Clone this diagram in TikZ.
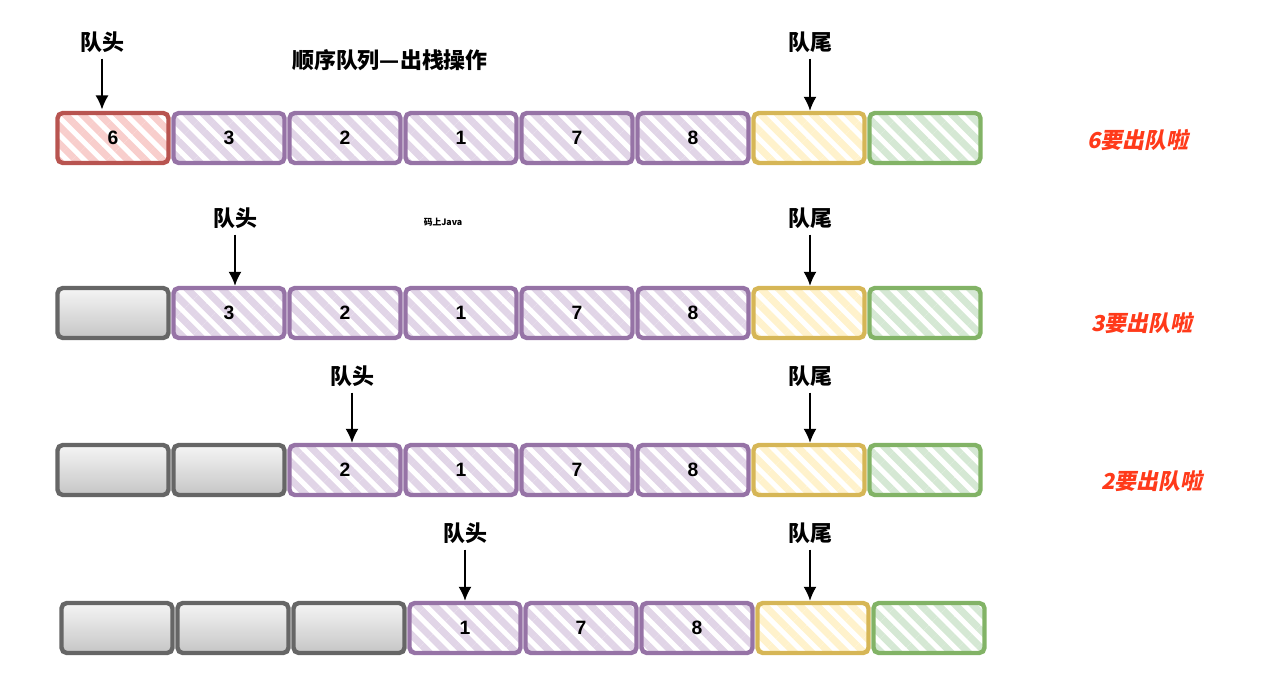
\documentclass[tikz,border=0pt]{standalone}
\usepackage{fontspec}
\setmainfont{Liberation Sans}
\newfontfamily\cjk{Noto Sans CJK SC}
\newfontfamily\cjkit{Noto Sans CJK SC}[FakeSlant=0.2]
\usetikzlibrary{arrows.meta,patterns.meta,positioning}
\definecolor{qRedD}{HTML}{B85450}
\definecolor{qRedL}{HTML}{F8CECC}
\definecolor{qPurpleD}{HTML}{9673A6}
\definecolor{qPurpleL}{HTML}{E1D5E7}
\definecolor{qYellowD}{HTML}{D6B656}
\definecolor{qYellowL}{HTML}{FFF2CC}
\definecolor{qGreenD}{HTML}{82B366}
\definecolor{qGreenL}{HTML}{D5E8D4}
\definecolor{qGray}{HTML}{666666}
\definecolor{qSay}{HTML}{FF3A1A}

\begin{document}
\begin{tikzpicture}[x=0.02cm, y=-0.02cm,
  cell/.style={draw, rounded corners=3pt, line width=2.5pt, minimum width=2.22cm, minimum height=1.0cm, font=\bfseries\fontsize{11}{13}\selectfont},
  hatch/.style={cell, draw=#1D, pattern={Lines[angle=-45, distance=7pt, line width=4pt]}, pattern color=#1L},
  spent/.style={cell, draw=qGray, top color=gray!8, bottom color=gray!45},
  tag/.style={font=\cjk\bfseries\fontsize{12.5}{14}\selectfont},
  ptr/.style={-{Latex[length=2.8mm, width=2.6mm]}, line width=0.9pt},
  say/.style={font=\cjkit\bfseries\fontsize{12.5}{14}\selectfont, text=qSay}
]
\useasboundingbox (0,0) rectangle (1279,693);
% title
\node[tag] (title) at (390,60) {顺序队列—出栈操作};
\node[font=\cjk\bfseries\fontsize{5}{6}\selectfont] (mark) at (443,222) {码上Java};
% row 1
\node[hatch=qRed] (a1) at (113,138) {6};
\foreach \n [count=\i from 2] in {3,2,1,7,8}
  \node[hatch=qPurple] (a\i) at ({113+116*(\i-1)},138) {\n};
\node[hatch=qYellow] (a7) at (809,138) {};
\node[hatch=qGreen] (a8) at (925,138) {};
% row 2
\node[spent] (b1) at (113,313) {};
\foreach \n [count=\i from 2] in {3,2,1,7,8}
  \node[hatch=qPurple] (b\i) at ({113+116*(\i-1)},313) {\n};
\node[hatch=qYellow] (b7) at (809,313) {};
\node[hatch=qGreen] (b8) at (925,313) {};
% row 3
\node[spent] (c1) at (113,470) {};
\node[spent] (c2) at (229,470) {};
\foreach \n [count=\i from 3] in {2,1,7,8}
  \node[hatch=qPurple] (c\i) at ({113+116*(\i-1)},470) {\n};
\node[hatch=qYellow] (c7) at (809,470) {};
\node[hatch=qGreen] (c8) at (925,470) {};
% row 4
\foreach \i in {1,2,3}
  \node[spent] (d\i) at ({117+116*(\i-1)},628) {};
\foreach \n [count=\i from 4] in {1,7,8}
  \node[hatch=qPurple] (d\i) at ({117+116*(\i-1)},628) {\n};
\node[hatch=qYellow] (d7) at (813,628) {};
\node[hatch=qGreen] (d8) at (929,628) {};
% head / tail pointers
\node[tag] (h1) at (102,42) {队头};
\node[tag] (t1) at (810,42) {队尾};
\node[tag] (h2) at (235,218) {队头};
\node[tag] (t2) at (810,218) {队尾};
\node[tag] (h3) at (352,376) {队头};
\node[tag] (t3) at (810,376) {队尾};
\node[tag] (h4) at (465,533) {队头};
\node[tag] (t4) at (810,533) {队尾};
\draw[ptr] (h1) -- (h1 |- a1.north);
\draw[ptr] (t1) -- (t1 |- a7.north);
\draw[ptr] (h2) -- (h2 |- b2.north);
\draw[ptr] (t2) -- (t2 |- b7.north);
\draw[ptr] (h3) -- (h3 |- c3.north);
\draw[ptr] (t3) -- (t3 |- c7.north);
\draw[ptr] (h4) -- (h4 |- d4.north);
\draw[ptr] (t4) -- (t4 |- d7.north);
% notes
\node[say] (s1) at (1138,140) {6要出队啦};
\node[say] (s2) at (1142,323) {3要出队啦};
\node[say] (s3) at (1152,481) {2要出队啦};
\end{tikzpicture}
\end{document}
